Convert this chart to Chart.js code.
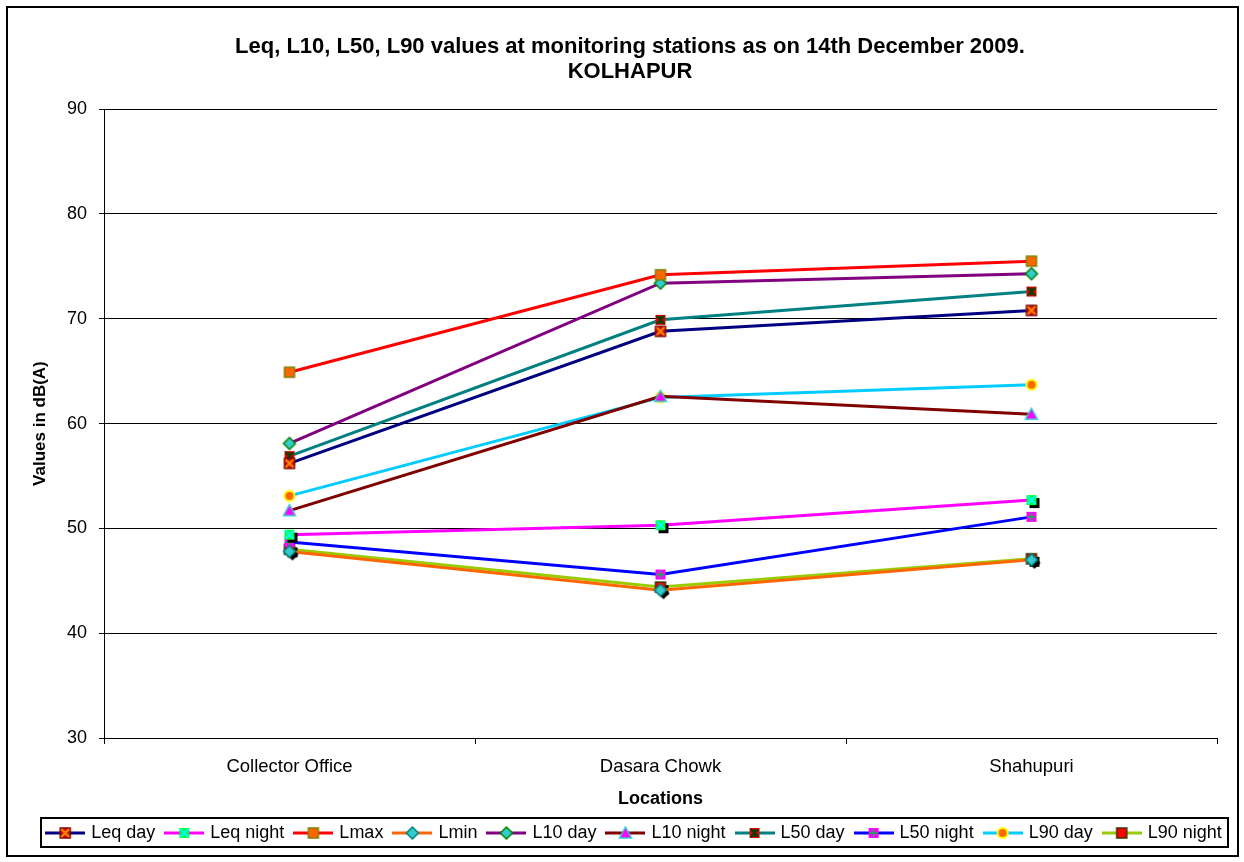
<!DOCTYPE html>
<html><head><meta charset="utf-8">
<script src="https://cdn.jsdelivr.net/npm/chart.js@4"></script>
<style>html,body{margin:0;padding:0;background:#fff}#wrap{width:1244px;height:862px;position:relative}</style>
</head><body><div id="wrap"><canvas id="c" width="1244" height="862"></canvas></div>
<script>
const categories = ['Collector Office', 'Dasara Chowk', 'Shahupuri'];
const leqDay   = [56.2, 68.8, 70.8];
const leqNight = [49.4, 50.3, 52.7];
const lmax     = [64.9, 74.2, 75.5];
const lmin     = [47.8, 44.1, 47.0];
const l10Day   = [58.1, 73.4, 74.3];
const l10Night = [51.7, 62.6, 60.9];
const l50Day   = [56.9, 69.9, 72.6];
const l50Night = [48.7, 45.6, 51.1];
const l90Day   = [53.1, 62.5, 63.7];
const l90Night = [48.0, 44.4, 47.1];
const yTicks   = [30, 40, 50, 60, 70, 80, 90];
const titleLines = ['Leq, L10, L50, L90 values at monitoring stations as on 14th December 2009.', 'KOLHAPUR'];

const FONT = 'Arial, "Liberation Sans", sans-serif';

function drawShape(ctx, cx, cy, spec, fillOverride) {
  const s = 5;
  ctx.lineWidth = 1.5;
  ctx.beginPath();
  if (spec.shape === 'square') {
    ctx.rect(cx - s, cy - s, 2 * s, 2 * s);
  } else if (spec.shape === 'diamond') {
    ctx.moveTo(cx, cy - s - 1); ctx.lineTo(cx + s + 1, cy); ctx.lineTo(cx, cy + s + 1); ctx.lineTo(cx - s - 1, cy); ctx.closePath();
  } else if (spec.shape === 'triangle') {
    ctx.moveTo(cx, cy - s - 1); ctx.lineTo(cx + s + 1, cy + s); ctx.lineTo(cx - s - 1, cy + s); ctx.closePath();
  } else if (spec.shape === 'circle') {
    ctx.arc(cx, cy, s, 0, Math.PI * 2);
  }
  ctx.fillStyle = fillOverride || spec.fill;
  ctx.fill();
  if (fillOverride) return;
  if (spec.border) { ctx.strokeStyle = spec.border; ctx.lineWidth = spec.shape === 'circle' ? 2 : 1.5; ctx.stroke(); }
  if (spec.glyph) {
    ctx.strokeStyle = spec.glyphColor; ctx.lineWidth = 2;
    ctx.beginPath();
    const g = 4;
    if (spec.glyph === 'x' || spec.glyph === 'star') {
      ctx.moveTo(cx - g, cy - g); ctx.lineTo(cx + g, cy + g);
      ctx.moveTo(cx + g, cy - g); ctx.lineTo(cx - g, cy + g);
    }
    if (spec.glyph === 'plus' || spec.glyph === 'star') {
      ctx.moveTo(cx, cy - g); ctx.lineTo(cx, cy + g);
      if (spec.glyph === 'plus') { ctx.moveTo(cx - g, cy); ctx.lineTo(cx + g, cy); }
    }
    ctx.stroke();
  }
}
function makeMarker(spec) {
  const c = document.createElement('canvas');
  c.width = 22; c.height = 22;
  const ctx = c.getContext('2d');
  if (spec.shadow) drawShape(ctx, 14, 14, spec, '#000');
  drawShape(ctx, 11, 11, spec);
  return c;
}
function makeLegendIcon(spec, color) {
  const c = document.createElement('canvas');
  c.width = 40; c.height = 14;
  const ctx = c.getContext('2d');
  ctx.strokeStyle = color; ctx.lineWidth = 3;
  ctx.beginPath(); ctx.moveTo(0, 7); ctx.lineTo(40, 7); ctx.stroke();
  drawShape(ctx, 20, 7, spec);
  return c;
}
const specs = [
  {label: 'Leq day',   data: leqDay,   color: '#000080', m: {shape: 'square', fill: '#cc1100', glyph: 'x', glyphColor: '#ff8800', border: '#800000'}},
  {label: 'Leq night', data: leqNight, color: '#ff00ff', m: {shape: 'square', fill: '#00ff33', glyph: 'x', glyphColor: '#00ffff', shadow: true}},
  {label: 'Lmax',      data: lmax,     color: '#ff0000', m: {shape: 'square', fill: '#ff6600', border: '#808000'}},
  {label: 'Lmin',      data: lmin,     color: '#ff6600', m: {shape: 'diamond', fill: '#33cccc', border: '#008080', shadow: true}},
  {label: 'L10 day',   data: l10Day,   color: '#800080', m: {shape: 'diamond', fill: '#33cccc', border: '#008000'}},
  {label: 'L10 night', data: l10Night, color: '#800000', m: {shape: 'triangle', fill: '#ff00ff', border: '#33cccc'}},
  {label: 'L50 day',   data: l50Day,   color: '#008080', m: {shape: 'square', fill: '#ee0000', glyph: 'star', glyphColor: '#004000'}},
  {label: 'L50 night', data: l50Night, color: '#0000ff', m: {shape: 'square', fill: '#ff00ff', glyph: 'plus', glyphColor: '#339966'}},
  {label: 'L90 day',   data: l90Day,   color: '#00ccff', m: {shape: 'circle', fill: '#ff6600', border: '#ffff00'}},
  {label: 'L90 night', data: l90Night, color: '#99cc00', m: {shape: 'square', fill: '#ff0000', border: '#333300', shadow: true}}
];
const legendIcons = specs.map(s => makeLegendIcon(s.m, s.color));
const datasets = specs.map(s => ({
  label: s.label, data: s.data, borderColor: s.color, backgroundColor: s.color,
  borderWidth: 3, pointStyle: makeMarker(s.m), pointRadius: 6, tension: 0
}));

const frame = {
  id: 'frame',
  afterLayout(chart) {
    const lg = chart.legend;
    if (lg) { lg.left += 24; lg.right += 24; }
    const tb = chart.titleBlock;
    if (tb) { tb.left += 19; tb.right += 19; }
  },
  afterDraw(chart) {
    const ctx = chart.ctx;
    ctx.save();
    ctx.strokeStyle = '#000'; ctx.lineWidth = 2;
    ctx.strokeRect(7, 7, 1231, 849);
    ctx.strokeRect(41, 818, 1187, 29);
    ctx.restore();
  }
};

new Chart(document.getElementById('c'), {
  type: 'line',
  data: {labels: categories, datasets},
  plugins: [frame],
  options: {
    responsive: false, animation: false,
    layout: {padding: {left: 5, right: 27, top: 0, bottom: 10}},
    plugins: {
      title: {display: true, text: titleLines, color: '#000',
        font: {family: FONT, size: 22, weight: 'bold', lineHeight: 1.14},
        padding: {top: 34, bottom: 25}},
      legend: {position: 'bottom',
        labels: {usePointStyle: true, pointStyleWidth: 34, color: '#000', padding: 12,
          font: {family: FONT, size: 18},
          generateLabels(chart) {
            return chart.data.datasets.map((d, i) => ({text: d.label, pointStyle: legendIcons[i], datasetIndex: i, fontColor: '#000', lineWidth: 0, strokeStyle: 'transparent', fillStyle: 'transparent'}));
          }}},
      tooltip: {enabled: false}
    },
    scales: {
      x: {
        offset: true,
        grid: {offset: true, drawOnChartArea: false, drawTicks: true, tickLength: 6, color: '#000', lineWidth: 1},
        border: {color: '#000', width: 1},
        ticks: {color: '#000', font: {family: FONT, size: 18.5}, padding: 12, maxRotation: 0},
        title: {display: true, text: 'Locations', color: '#000', font: {family: FONT, size: 18, weight: 'bold'}, padding: {top: 4, bottom: 2}},
        afterFit(s) { s.height = 74; }
      },
      y: {
        min: 30, max: 90,
        afterBuildTicks(s) { s.ticks = yTicks.map(v => ({value: v})); },
        grid: {color: '#000', lineWidth: 1, tickLength: 5},
        border: {color: '#000', width: 1},
        ticks: {color: '#000', font: {family: FONT, size: 18}, padding: 12},
        title: {display: true, text: 'Values in dB(A)', color: '#000', font: {family: FONT, size: 17, weight: 'bold'}, padding: {top: 25, bottom: 10}},
        afterFit(s) { s.width = 99; }
      }
    }
  }
});
</script></body></html>
